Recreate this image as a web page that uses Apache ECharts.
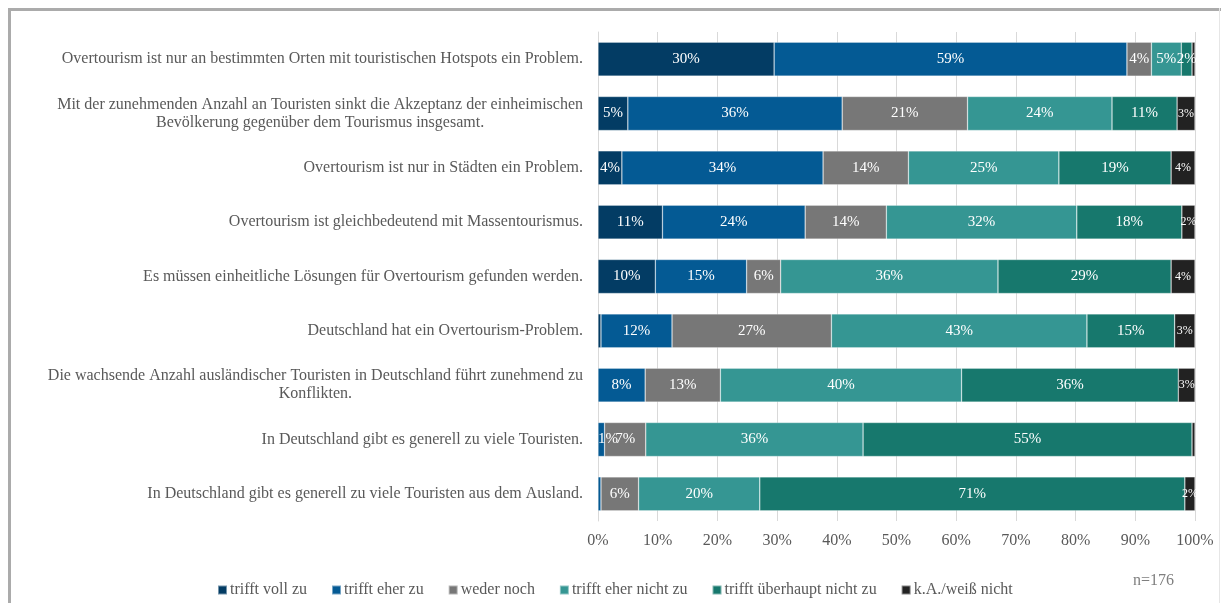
<!DOCTYPE html>
<html>
<head>
<meta charset="utf-8">
<script src="https://cdn.jsdelivr.net/npm/echarts@6/dist/echarts.min.js"></script>
<style>
html,body{margin:0;padding:0;background:#fff;}
#chart{width:1221px;height:603px;}
</style>
</head>
<body>
<div id="chart"></div>
<script>
const categories = [
  'Overtourism ist nur an bestimmten Orten mit touristischen Hotspots ein Problem.',
  'Mit der zunehmenden Anzahl an Touristen sinkt die Akzeptanz der einheimischen\nBevölkerung gegenüber dem Tourismus insgesamt.',
  'Overtourism ist nur in Städten ein Problem.',
  'Overtourism ist gleichbedeutend mit Massentourismus.',
  'Es müssen einheitliche Lösungen für Overtourism gefunden werden.',
  'Deutschland hat ein Overtourism-Problem.',
  'Die wachsende Anzahl ausländischer Touristen in Deutschland führt zunehmend zu\nKonflikten.',
  'In Deutschland gibt es generell zu viele Touristen.',
  'In Deutschland gibt es generell zu viele Touristen aus dem Ausland.'
];
const seriesNames = ['trifft voll zu', 'trifft eher zu', 'weder noch', 'trifft eher nicht zu', 'trifft überhaupt nicht zu', 'k.A./weiß nicht'];
const trifftVollZu        = [29.5,  5.0,  4.0, 10.8,  9.6,  0.5,  0.0,  0.0,  0.0];
const trifftEherZu        = [59.1, 35.9, 33.7, 23.9, 15.3, 11.9,  7.9,  1.1,  0.5];
const wederNoch           = [ 4.1, 21.0, 14.3, 13.6,  5.7, 26.7, 12.6,  6.9,  6.3];
const trifftEherNichtZu   = [ 5.0, 24.2, 25.2, 31.9, 36.4, 42.8, 40.4, 36.4, 20.3];
const trifftUeberhauptNicht = [1.8, 10.9, 18.8, 17.6, 29.0, 14.7, 36.3, 55.1, 71.2];
const kaWeissNicht        = [ 0.5,  3.0,  4.0,  2.2,  4.0,  3.4,  2.8,  0.5,  1.7];
const xTickLabels = ['0%','10%','20%','30%','40%','50%','60%','70%','80%','90%','100%'];
const sampleNote = 'n=176';

const colors = ['#033c64', '#045a94', '#777777', '#359693', '#17786d', '#222222'];
const seriesData = [trifftVollZu, trifftEherZu, wederNoch, trifftEherNichtZu, trifftUeberhauptNicht, kaWeissNicht];
const FONT = '"Liberation Serif", "DejaVu Serif", serif';
const TXT = '#595959';

const chart = echarts.init(document.getElementById('chart'), null, {renderer: 'canvas'});
chart.setOption({
  animation: false,
  backgroundColor: '#fff',
  color: colors,
  grid: {left: 598, right: 26, top: 32, bottom: 82, containLabel: false},
  xAxis: {
    type: 'value', min: 0, max: 100, interval: 10,
    axisLine: {show: false}, axisTick: {show: false},
    splitLine: {show: true, lineStyle: {color: '#d9d9d9', width: 1}},
    axisLabel: {
      margin: 12, color: TXT, fontFamily: FONT, fontSize: 16,
      formatter: function (v) { return xTickLabels[Math.round(v / 10)]; }
    }
  },
  yAxis: {
    type: 'category', data: categories, inverse: true,
    axisLine: {show: true, lineStyle: {color: '#d9d9d9'}},
    axisTick: {show: false},
    axisLabel: {
      margin: 15, color: TXT, fontFamily: FONT, fontSize: 16, align: 'right',
      formatter: function (v) {
        return v.split('\n').map(function (l) { return '{c|' + l + '}'; }).join('\n');
      },
      rich: {c: {align: 'center', color: TXT, fontFamily: FONT, fontSize: 16, lineHeight: 18}}
    }
  },
  legend: {
    left: 212, top: 577,
    itemWidth: 9, itemHeight: 9, itemGap: 24,
    icon: 'rect',
    textStyle: {color: TXT, fontFamily: FONT, fontSize: 16, padding: [0, 0, 0, -2]},
    data: seriesNames
  },
  series: seriesNames.map(function (name, i) {
    return {
      name: name, type: 'bar', stack: 'total', barWidth: 34,
      data: seriesData[i].map(function (v) {
        return (v > 0.8 && v < 1.5 && i < 5) ? {value: v, label: {position: 'insideLeft', distance: 0}} : v;
      }),
      itemStyle: {color: colors[i], borderColor: 'rgba(255,255,255,0.45)', borderWidth: 0.6},
      label: {
        show: true, position: 'inside', color: '#fff', fontFamily: FONT,
        fontSize: i === 5 ? 12 : 15,
        formatter: function (p) { return p.value >= 0.8 ? Math.round(p.value) + '%' : ''; }
      }
    };
  }),
  graphic: [
    {type: 'rect', shape: {x: 8, y: 8, width: 1213, height: 3}, style: {fill: '#ababab'}, silent: true},
    {type: 'rect', shape: {x: 8, y: 8, width: 3, height: 595}, style: {fill: '#ababab'}, silent: true},
    {type: 'rect', shape: {x: 1219, y: 8, width: 1, height: 595}, style: {fill: '#e6e6e6'}, silent: true},
    {type: 'text', left: 1133, top: 573, style: {text: sampleNote, fill: '#7f7f7f', font: '16px ' + FONT}, silent: true}
  ]
});
</script>
</body>
</html>
